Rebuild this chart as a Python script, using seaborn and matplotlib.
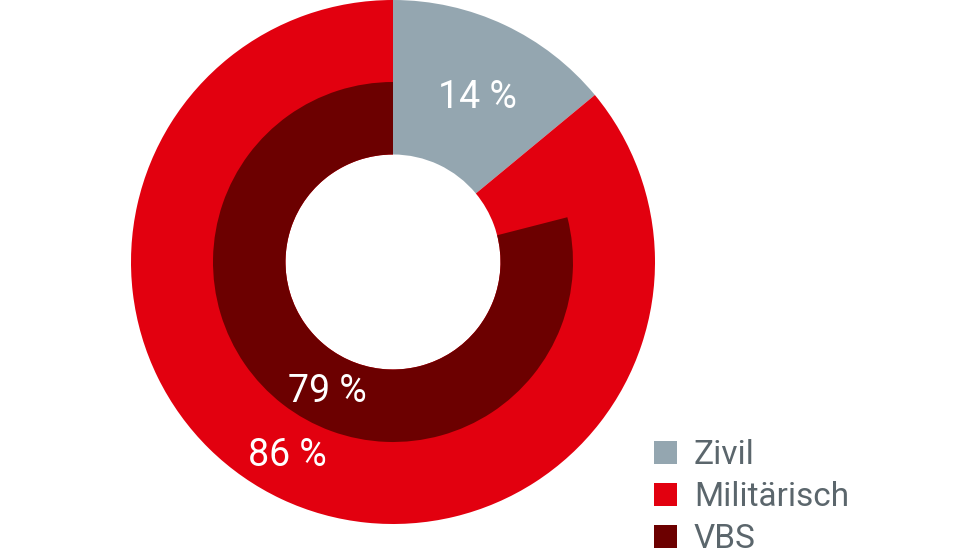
import matplotlib
matplotlib.use("Agg")
import matplotlib.pyplot as plt
import seaborn as sns
from matplotlib.patches import Patch

# data
outer_labels = ["Zivil", "Militärisch"]
outer_values = [14, 86]
inner_label = "VBS"
inner_value = 79

colors = {"Zivil": "#94a6b0", "Militärisch": "#e2000f", "VBS": "#6c0000"}
text_grey = "#5b666c"

sns.set_theme(style="white")
plt.rcParams["font.family"] = ["Roboto", "DejaVu Sans"]

fig = plt.figure(figsize=(9.8, 5.51), dpi=100)
# axes placed so the ring centre sits at (393, 262) px, radius 262 px
ax = fig.add_axes([131 / 980, 27 / 551, 524 / 980, 524 / 551])

hole = 107.5 / 262
mid = 180 / 262

# outer ring, runs all the way in to the hole
ax.pie(outer_values, radius=1.0, startangle=90, counterclock=False,
       colors=[colors[k] for k in outer_labels],
       wedgeprops=dict(width=1.0 - hole, linewidth=0))

# inner ring: only the VBS share is drawn, the rest lets the outer ring show
ax.pie([100 - inner_value, inner_value], radius=mid, startangle=90,
       counterclock=False, colors=["none", colors[inner_label]],
       wedgeprops=dict(width=mid - hole, linewidth=0))

ax.set_xlim(-1, 1)
ax.set_ylim(-1, 1)
ax.set_aspect("equal")
ax.axis("off")

lbl = dict(color="white", fontsize=27, ha="center", va="center")
ax.text(0.324, 0.626, f"{outer_values[0]} %", **lbl)
ax.text(-0.252, -0.496, f"{inner_value} %", **lbl)
ax.text(-0.405, -0.737, f"{outer_values[1]} %", **lbl)

handles = [Patch(facecolor=colors[k], edgecolor="none") for k in outer_labels + [inner_label]]
leg = fig.legend(handles, outer_labels + [inner_label],
                 loc="upper left", bbox_to_anchor=(654 / 980, 1 - 439 / 551),
                 frameon=False, fontsize=24, handlelength=0.7, handleheight=0.7,
                 handletextpad=0.5, labelspacing=0.3, borderpad=0, borderaxespad=0)
for t in leg.get_texts():
    t.set_color(text_grey)

fig.savefig("out.png", dpi=100)
